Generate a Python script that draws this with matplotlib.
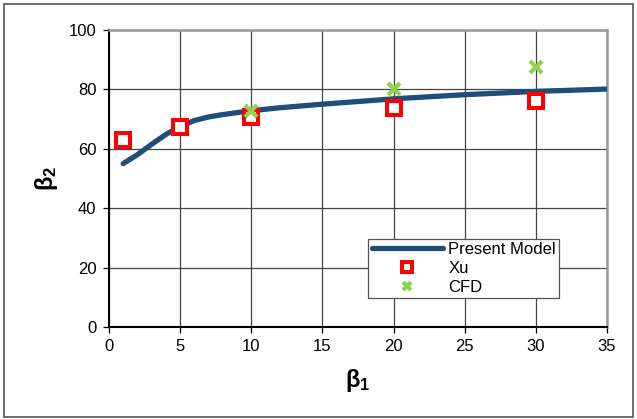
import matplotlib
matplotlib.use('Agg')
import matplotlib.pyplot as plt
from matplotlib.patches import Rectangle

plt.rcParams['font.family'] = ['Liberation Sans', 'DejaVu Sans']
plt.rcParams['mathtext.fontset'] = 'custom'
plt.rcParams['mathtext.rm'] = 'Liberation Sans:bold'
plt.rcParams['mathtext.bf'] = 'Liberation Sans:bold'
plt.rcParams['mathtext.default'] = 'rm'

# model curve
model_x = [1, 2, 3, 4, 5, 6, 7, 8, 10, 12, 15, 20, 25, 30, 35]
model_y = [55, 58, 61.5, 64.8, 67.5, 69.5, 70.7, 71.5, 72.8, 73.8, 75.0, 76.8, 78.2, 79.3, 80.1]

# Xu data
xu_x = [1, 5, 10, 20, 30]
xu_y = [63, 67.3, 70.6, 73.8, 76]

# CFD data
cfd_x = [10, 20, 30]
cfd_y = [72.8, 80, 87.4]

fig = plt.figure(figsize=(6.37, 4.19), dpi=100)
ax = fig.add_axes([0.171, 0.2196, 0.782, 0.709])

ax.plot(model_x, model_y, color='#1f4e79', lw=3.8, solid_capstyle='round', label='Present Model', zorder=3)
ax.plot(xu_x, xu_y, 's', ms=10.5, mfc='white', mec='#ff0000', mew=2.9, label='Xu', zorder=4)
ax.plot(cfd_x, cfd_y, 'x', ms=9, mec='#92d050', mew=3, label='CFD', zorder=5)

ax.set_xlim(0, 35)
ax.set_ylim(0, 100)
ax.set_xticks(range(0, 36, 5))
ax.set_yticks(range(0, 101, 20))
ax.grid(True, color='#444444', lw=0.9)
ax.set_axisbelow(True)
ax.tick_params(labelsize=12, length=4, width=0.9, direction='out', pad=5)

for s in ['left', 'bottom']:
    ax.spines[s].set_color('black')
    ax.spines[s].set_linewidth(1.5)
for s in ['top', 'right']:
    ax.spines[s].set_color('#999999')
    ax.spines[s].set_linewidth(1.8)

ax.set_xlabel('β$_1$', fontsize=17, fontweight='bold', labelpad=9)
ax.set_ylabel('β$_2$', fontsize=17, fontweight='bold', labelpad=6)

leg = ax.legend(loc='lower right', bbox_to_anchor=(0.904, 0.098), borderaxespad=0, fontsize=12,
                frameon=True, fancybox=False, edgecolor='#555555', framealpha=1,
                handlelength=4.3, borderpad=0.2, labelspacing=0.22, handletextpad=0.3,
                markerscale=0.7)
leg.get_frame().set_linewidth(0.9)

fig.patches.append(Rectangle((4 / 637, 2 / 419), 629 / 637, 413 / 419, transform=fig.transFigure,
                             fill=False, edgecolor='#555555', lw=1.2))

fig.savefig('out.png', dpi=100)
